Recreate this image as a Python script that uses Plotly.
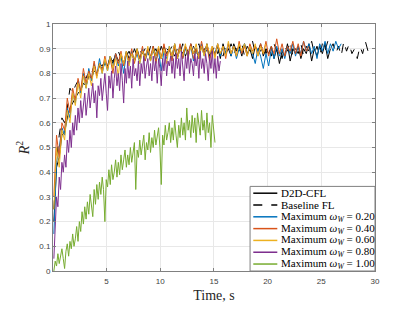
import plotly.graph_objects as go

# ---------------- data ----------------
t_start = 0.1      # s, first sample
dt = 0.25          # s, sampling step of the upper curves
dt_fine = 0.125    # s, sampling step used for the 0.80 and 1.00 curves

legend_labels = [
    "D2D-CFL",
    "Baseline FL",
    "Maximum <i>ω</i><sub><i>W</i></sub> = 0.20",
    "Maximum <i>ω</i><sub><i>W</i></sub> = 0.40",
    "Maximum <i>ω</i><sub><i>W</i></sub> = 0.60",
    "Maximum <i>ω</i><sub><i>W</i></sub> = 0.80",
    "Maximum <i>ω</i><sub><i>W</i></sub> = 1.00",
]

d2d_cfl = [
    0.2, 0.42, 0.46, 0.55, 0.56, 0.62, 0.66, 0.68, 0.7, 0.72,
    0.73, 0.76, 0.75, 0.79, 0.78, 0.81, 0.8, 0.83, 0.82, 0.84,
    0.83, 0.87, 0.84, 0.88, 0.85, 0.87, 0.84, 0.89, 0.86, 0.88,
    0.85, 0.9, 0.86, 0.89, 0.87, 0.9, 0.85, 0.91, 0.87, 0.9,
    0.86, 0.91, 0.88, 0.9, 0.87, 0.92, 0.86, 0.9, 0.88, 0.91,
    0.87, 0.92, 0.88, 0.9, 0.86, 0.91, 0.88, 0.92, 0.87, 0.9,
    0.88, 0.91, 0.86, 0.92, 0.88, 0.9, 0.87, 0.92, 0.89, 0.91,
    0.87, 0.92, 0.88, 0.9, 0.86, 0.91, 0.89, 0.92, 0.87, 0.9,
    0.88, 0.91, 0.86, 0.9, 0.84, 0.89, 0.87, 0.92, 0.85, 0.9,
    0.88, 0.91, 0.86, 0.9, 0.88, 0.92, 0.85, 0.9, 0.87, 0.91,
    0.88, 0.92, 0.86, 0.9,
]

baseline_fl = [
    0.25, 0.45, 0.55, 0.62, 0.6, 0.66, 0.74, 0.72, 0.75, 0.77,
    0.76, 0.79, 0.78, 0.81, 0.8, 0.83, 0.81, 0.84, 0.83, 0.85,
    0.84, 0.86, 0.85, 0.87, 0.89, 0.86, 0.88, 0.87, 0.89, 0.86,
    0.9, 0.87, 0.89, 0.88, 0.9, 0.87, 0.91, 0.88, 0.9, 0.87,
    0.91, 0.88, 0.9, 0.89, 0.91, 0.87, 0.9, 0.88, 0.92, 0.87,
    0.9, 0.89, 0.91, 0.88, 0.92, 0.87, 0.9, 0.89, 0.91, 0.88,
    0.92, 0.88, 0.9, 0.87, 0.91, 0.89, 0.92, 0.88, 0.9, 0.89,
    0.92, 0.87, 0.91, 0.89, 0.93, 0.88, 0.9, 0.89, 0.92, 0.88,
    0.91, 0.87, 0.92, 0.89, 0.9, 0.86, 0.91, 0.89, 0.93, 0.87,
    0.9, 0.88, 0.92, 0.87, 0.91, 0.89, 0.93, 0.88, 0.91, 0.87,
    0.92, 0.89, 0.93, 0.9, 0.92, 0.88, 0.91, 0.87, 0.93, 0.89,
    0.92, 0.88, 0.9, 0.86, 0.91, 0.88, 0.93, 0.89, 0.92,
]

omega_020 = [
    0.15, 0.44, 0.5, 0.58, 0.55, 0.66, 0.62, 0.72, 0.68, 0.77,
    0.72, 0.8, 0.74, 0.82, 0.77, 0.84, 0.79, 0.86, 0.8, 0.85,
    0.81, 0.87, 0.82, 0.88, 0.83, 0.87, 0.8, 0.88, 0.84, 0.89,
    0.85, 0.88, 0.84, 0.9, 0.85, 0.89, 0.86, 0.9, 0.85, 0.89,
    0.81, 0.89, 0.86, 0.91, 0.86, 0.9, 0.87, 0.91, 0.86, 0.9,
    0.87, 0.91, 0.85, 0.9, 0.88, 0.92, 0.87, 0.91, 0.86, 0.9,
    0.88, 0.92, 0.87, 0.91, 0.88, 0.92, 0.87, 0.91, 0.86, 0.9,
    0.88, 0.92, 0.87, 0.91, 0.88, 0.84, 0.9, 0.87, 0.82, 0.88,
    0.83, 0.9, 0.86, 0.91, 0.87, 0.9, 0.86, 0.91, 0.88, 0.92,
    0.87, 0.91, 0.88, 0.93, 0.89, 0.92, 0.88, 0.91, 0.86, 0.92,
    0.89, 0.93, 0.88, 0.92, 0.89, 0.93, 0.9, 0.92,
]

omega_040 = [
    0.3, 0.55, 0.46, 0.6, 0.57, 0.7, 0.64, 0.74, 0.69, 0.78,
    0.73, 0.82, 0.76, 0.81, 0.78, 0.85, 0.79, 0.84, 0.81, 0.87,
    0.82, 0.86, 0.8, 0.88, 0.84, 0.89, 0.83, 0.88, 0.85, 0.9,
    0.84, 0.89, 0.86, 0.91, 0.85, 0.9, 0.87, 0.91, 0.84, 0.9,
    0.86, 0.92, 0.87, 0.9, 0.85, 0.91, 0.87, 0.92, 0.86, 0.91,
    0.88, 0.92, 0.86, 0.9, 0.87, 0.93, 0.88, 0.91, 0.85, 0.91,
    0.87, 0.92, 0.88, 0.91, 0.86, 0.92, 0.88, 0.91, 0.87, 0.93,
    0.88, 0.91, 0.87, 0.92, 0.89, 0.91, 0.87, 0.92, 0.88, 0.93,
    0.87, 0.91, 0.88, 0.94, 0.88, 0.92, 0.87, 0.91, 0.89, 0.93,
    0.88, 0.92, 0.87, 0.93, 0.89, 0.91,
]

omega_060 = [
    0.25, 0.5, 0.42, 0.57, 0.53, 0.65, 0.6, 0.72, 0.67, 0.76,
    0.7, 0.79, 0.74, 0.8, 0.75, 0.83, 0.78, 0.84, 0.8, 0.86,
    0.81, 0.87, 0.82, 0.86, 0.79, 0.88, 0.84, 0.89, 0.83, 0.88,
    0.85, 0.9, 0.84, 0.89, 0.86, 0.91, 0.85, 0.9, 0.87, 0.91,
    0.86, 0.9, 0.84, 0.91, 0.87, 0.92, 0.86, 0.9, 0.87, 0.92,
    0.86, 0.91, 0.88, 0.92, 0.86, 0.91, 0.87, 0.92, 0.88, 0.91,
    0.86, 0.92, 0.88, 0.91, 0.87, 0.93, 0.88, 0.91, 0.87, 0.92,
    0.89, 0.92, 0.87, 0.91, 0.88, 0.92, 0.87, 0.91, 0.88, 0.92,
]

omega_080 = [
    0.05, 0.2, 0.3, 0.26, 0.38, 0.33, 0.44, 0.4,
    0.47, 0.42, 0.53, 0.48, 0.57, 0.5, 0.6, 0.55,
    0.63, 0.57, 0.66, 0.6, 0.69, 0.62, 0.67, 0.72,
    0.63, 0.7, 0.74, 0.66, 0.71, 0.76, 0.68, 0.73,
    0.62, 0.75, 0.71, 0.78, 0.69, 0.76, 0.8, 0.72,
    0.65, 0.79, 0.74, 0.81, 0.7, 0.78, 0.83, 0.75,
    0.8, 0.73, 0.84, 0.77, 0.68, 0.82, 0.76, 0.85,
    0.78, 0.83, 0.74, 0.86, 0.79, 0.82, 0.77, 0.85,
    0.75, 0.84, 0.8, 0.87, 0.78, 0.83, 0.86, 0.79,
    0.84, 0.77, 0.87, 0.81, 0.85, 0.76, 0.86, 0.82,
    0.75, 0.86, 0.81, 0.88, 0.79, 0.85, 0.83, 0.87,
    0.8, 0.86, 0.78, 0.88, 0.82, 0.86, 0.79, 0.89,
    0.83, 0.77, 0.87, 0.82, 0.89, 0.8, 0.86, 0.84,
    0.79, 0.88, 0.83, 0.87, 0.78, 0.89, 0.82, 0.86,
    0.8, 0.88, 0.84, 0.77, 0.87, 0.82, 0.89, 0.8,
    0.86, 0.78, 0.87, 0.81, 0.85,
]

omega_100 = [
    0.0, 0.04, 0.02, 0.07, 0.03, 0.06, 0.09, 0.05,
    0.01, 0.08, 0.11, 0.06, 0.12, 0.09, 0.15, 0.1,
    0.13, 0.18, 0.12, 0.2, 0.16, 0.24, 0.19, 0.26,
    0.21, 0.28, 0.23, 0.31, 0.26, 0.22, 0.33, 0.27,
    0.35, 0.29, 0.36, 0.31, 0.38, 0.33, 0.2, 0.37,
    0.34, 0.41, 0.35, 0.43, 0.37, 0.4, 0.45, 0.38,
    0.44, 0.39, 0.47, 0.41, 0.45, 0.49, 0.42, 0.47,
    0.43, 0.5, 0.44, 0.48, 0.52, 0.33, 0.49, 0.46,
    0.53, 0.47, 0.51, 0.55, 0.45, 0.52, 0.49, 0.56,
    0.48, 0.54, 0.5, 0.57, 0.51, 0.55, 0.58, 0.5,
    0.35, 0.55, 0.51, 0.59, 0.53, 0.56, 0.6, 0.52,
    0.58, 0.53, 0.61, 0.55, 0.5, 0.59, 0.54, 0.62,
    0.55, 0.6, 0.53, 0.66, 0.57, 0.61, 0.54, 0.63,
    0.56, 0.62, 0.52, 0.64, 0.58, 0.55, 0.65, 0.57,
    0.61, 0.53, 0.64, 0.56, 0.6, 0.5, 0.63, 0.57,
    0.52,
]

x_ticks = [5, 10, 15, 20, 25, 30]
y_ticks = [0, 0.1, 0.2, 0.3, 0.4, 0.5, 0.6, 0.7, 0.8, 0.9, 1]
y_tick_labels = ["0", "0.1", "0.2", "0.3", "0.4", "0.5", "0.6", "0.7", "0.8", "0.9", "1"]

# ---------------- styling ----------------
colors = ["#000000", "#000000", "#0072BD", "#D95319", "#EDB120", "#7E2F8E", "#77AC30"]
dashes = ["solid", "dash", "solid", "solid", "solid", "solid", "solid"]
steps = [dt, dt, dt, dt, dt, dt_fine, dt_fine]
serif = "Liberation Serif"
sans = "Liberation Sans"


def times(n, step):
    return [round(t_start + step * i, 4) for i in range(n)]


series = [d2d_cfl, baseline_fl, omega_020, omega_040, omega_060, omega_080, omega_100]

fig = go.Figure()
for vals, col, dsh, stp, name in zip(series, colors, dashes, steps, legend_labels):
    fig.add_trace(go.Scatter(
        x=times(len(vals), stp), y=vals, mode="lines", name=name,
        line=dict(color=col, width=1, dash=dsh), showlegend=False,
    ))

axis_common = dict(
    showline=True, linecolor="#808080", linewidth=1, mirror="ticks",
    ticks="inside", ticklen=3, tickcolor="#808080",
    showgrid=True, gridcolor="#e8e8e8", gridwidth=1, zeroline=False,
    tickfont=dict(family=sans, size=8, color="#404040"),
)

fig.update_xaxes(range=[0.02, 30], tickvals=x_ticks, ticklabelstandoff=2,
                 title=dict(text="Time, s", font=dict(family=serif, size=14, color="#262626"), standoff=5),
                 **axis_common)
fig.update_yaxes(range=[0, 1], tickvals=y_ticks, ticktext=y_tick_labels,
                 title=dict(text="<i>R</i><sup>2</sup>", font=dict(family=serif, size=14, color="#262626"), standoff=6),
                 **axis_common)

# ---------------- manual legend (compact like MATLAB) ----------------
shapes = []
annotations = []
lx0, lx1 = 0.612, 1.0
ly0, ly1 = 0.0, 0.3425
shapes.append(dict(type="rect", xref="paper", yref="paper", x0=lx0, x1=lx1, y0=ly0, y1=ly1,
                   line=dict(color="#808080", width=1), fillcolor="white", layer="above"))
for k, (lab, col, dsh) in enumerate(zip(legend_labels, colors, dashes)):
    yk = 0.315 - k * 0.0478
    shapes.append(dict(type="line", xref="paper", yref="paper", x0=0.622, x1=0.6966, y0=yk, y1=yk,
                       line=dict(color=col, width=1.5, dash=dsh), layer="above"))
    annotations.append(dict(xref="paper", yref="paper", x=0.703, y=yk, text=lab, showarrow=False,
                            xanchor="left", yanchor="middle",
                            font=dict(family=serif, size=11, color="#000000")))

# the page body has an 8 px margin, so the figure is 8 px smaller than the window
fig.update_layout(
    width=407, height=304,
    margin=dict(l=45, r=40, t=15, b=35),
    paper_bgcolor="white", plot_bgcolor="white",
    shapes=shapes, annotations=annotations,
    showlegend=False,
)

fig.write_html("out.html", config={"displayModeBar": False})
